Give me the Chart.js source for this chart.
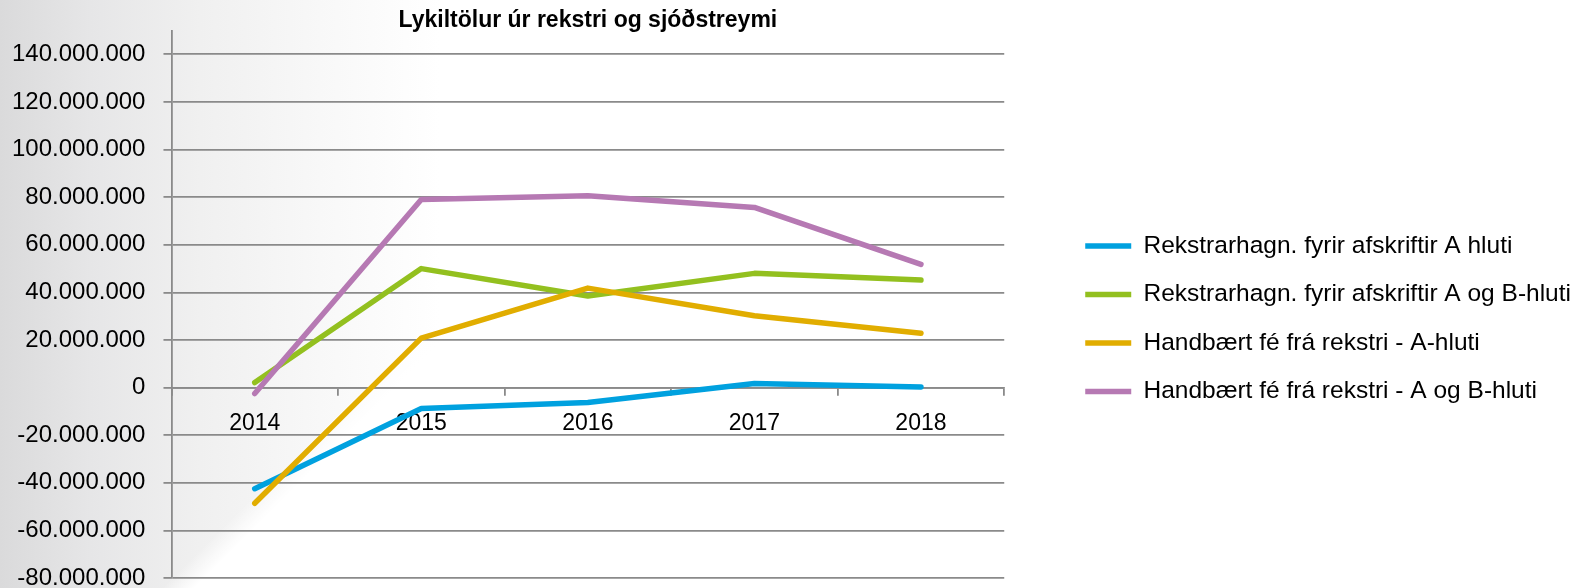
<!DOCTYPE html>
<html>
<head>
<meta charset="utf-8">
<title>Lykiltölur úr rekstri og sjóðstreymi</title>
<script src="https://cdn.jsdelivr.net/npm/chart.js@4.4.1/dist/chart.umd.min.js"></script>
<style>
    html, body { margin: 0; padding: 0; }
    body {
        width: 1586px;
        height: 588px;
        overflow: hidden;
        background:
            linear-gradient(135deg, rgba(255,255,255,0) 34.5%, #ffffff 36%),
            linear-gradient(to right, #dadadb 0px, #e6e6e7 90px, #f0f0f0 200px, #f8f8f8 320px, #ffffff 440px);
    }
    #wrap { position: relative; width: 1586px; height: 588px; }
</style>
</head>
<body>
<div id="wrap"><canvas id="keyFiguresChart"></canvas></div>
<script>
// Years on the x axis
const years = ["2014", "2015", "2016", "2017", "2018"];

// Series names (legend)
const seriesNames = [
    "Rekstrarhagn. fyrir afskriftir A hluti",
    "Rekstrarhagn. fyrir afskriftir A og B-hluti",
    "Handbært fé frá rekstri - A-hluti",
    "Handbært fé frá rekstri - A og B-hluti"
];

// Values (ISK)
const ebitdaA = [-42500000, -8800000, -6300000, 1700000, 300000];
const ebitdaAB = [2100000, 50000000, 38500000, 48000000, 45200000];
const cashA = [-48600000, 20800000, 41800000, 30200000, 22800000];
const cashAB = [-2500000, 79000000, 80600000, 75700000, 51800000];

// y axis tick values (the axis itself runs a bit above the last one)
const yTicks = [-80000000, -60000000, -40000000, -20000000, 0, 20000000, 40000000,
    60000000, 80000000, 100000000, 120000000, 140000000];
const yMin = -80000000;
const yMax = 150000000;

const seriesColors = ["#00a1df", "#93c01f", "#e1ad00", "#b679b3"];
const gridGray = "#8a8a8a";

// 140000000 -> "140.000.000"
const formatIsk = (v) => {
    const s = String(Math.abs(Math.round(v))).replace(/\B(?=(\d{3})+(?!\d))/g, ".");
    return v < 0 ? "-" + s : s;
};

let keyFiguresChart;

const initKeyFiguresChart = () => {
    Chart.defaults.font.family = "'Liberation Sans', Arial, sans-serif";
    Chart.defaults.color = "#000";

    const ctx = document.getElementById('keyFiguresChart').getContext('2d');
    const allSeries = [ebitdaA, ebitdaAB, cashA, cashAB];

    keyFiguresChart = new Chart(ctx, {
        type: 'line',
        data: {
            labels: years,
            datasets: allSeries.map((values, i) => ({
                label: seriesNames[i],
                data: values,
                borderColor: seriesColors[i],
                backgroundColor: seriesColors[i],
                borderWidth: 5.5,
                borderCapStyle: 'round',
                borderJoinStyle: 'round',
                pointRadius: 0,
                pointStyle: 'line',
                tension: 0,
                fill: false,
                order: allSeries.length - i   // later series drawn on top
            }))
        },
        options: {
            responsive: true,
            maintainAspectRatio: false,
            animation: false,
            layout: {
                padding: { left: -6, right: 5, top: 0, bottom: 0 }
            },
            plugins: {
                title: {
                    display: true,
                    text: 'Lykiltölur úr rekstri og sjóðstreymi',
                    fullSize: false,
                    font: { size: 23, weight: 'bold' },
                    padding: { top: 7, bottom: -4 }
                },
                legend: {
                    position: 'right',
                    reverse: true,
                    maxWidth: 700,
                    title: {
                        display: true,
                        text: '',
                        padding: { top: 35, bottom: 0 }
                    },
                    labels: {
                        usePointStyle: true,
                        pointStyleWidth: 46,
                        boxWidth: 46,
                        padding: 24,
                        font: { size: 24.5 }
                    }
                },
                tooltip: { enabled: false }
            },
            scales: {
                x: {
                    position: { y: 0 },
                    offset: true,
                    grid: {
                        offset: true,
                        drawOnChartArea: false,
                        color: gridGray,
                        lineWidth: 1.8,
                        tickLength: 7
                    },
                    border: { color: gridGray, width: 1.8 },
                    ticks: { font: { size: 23 }, padding: 15, maxRotation: 0 }
                },
                y: {
                    min: yMin,
                    max: yMax,
                    afterBuildTicks: (scale) => {
                        scale.ticks = yTicks.map((v) => ({ value: v }));
                    },
                    // let the bottom label hang below the canvas like the original
                    afterFit: (scale) => {
                        scale.paddingTop = 0;
                        scale.paddingBottom = 10;
                    },
                    grid: { color: gridGray, lineWidth: 1.8, tickLength: 8 },
                    border: { color: gridGray, width: 1.8 },
                    ticks: {
                        font: { size: 24 },
                        padding: 18,
                        callback: (v) => formatIsk(v)
                    }
                },
                // empty axis that keeps a gap between the plot and the legend
                gap: {
                    type: 'linear',
                    position: 'right',
                    grid: { display: false },
                    border: { display: false },
                    ticks: { display: false },
                    afterFit: (scale) => { scale.width = 57; }
                }
            }
        }
    });
};

document.addEventListener('DOMContentLoaded', initKeyFiguresChart);
</script>
</body>
</html>
